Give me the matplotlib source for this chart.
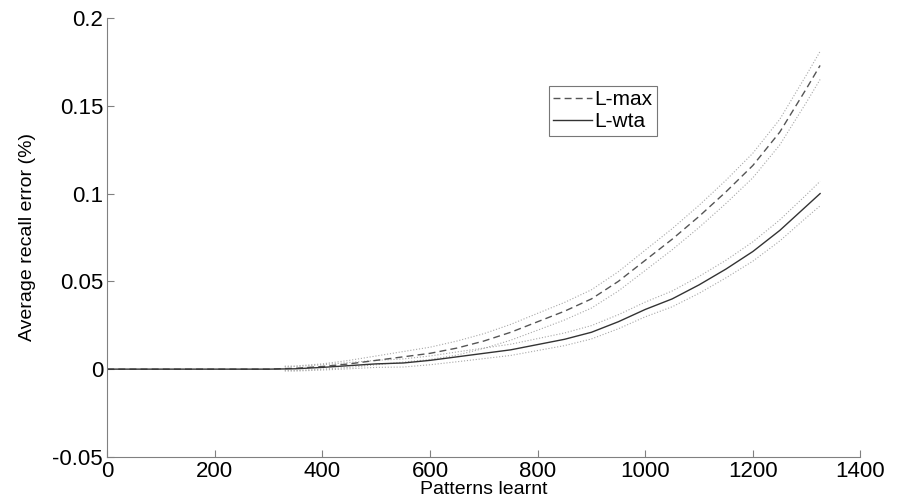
import matplotlib
matplotlib.use("Agg")
import matplotlib.pyplot as plt

# patterns learnt
x = [0, 300, 350, 400, 450, 500, 550, 600, 650, 700, 750, 800, 850, 900,
     950, 1000, 1050, 1100, 1150, 1200, 1250, 1300, 1325]
lmax = [0, 0, 0.0005, 0.0015, 0.003, 0.005, 0.007, 0.009, 0.012, 0.016, 0.021,
        0.027, 0.033, 0.040, 0.050, 0.062, 0.074, 0.087, 0.101, 0.116, 0.135,
        0.160, 0.173]
lwta = [0, 0, 0.0002, 0.001, 0.002, 0.003, 0.0035, 0.005, 0.007, 0.009, 0.011,
        0.014, 0.017, 0.021, 0.027, 0.034, 0.040, 0.048, 0.057, 0.067, 0.079,
        0.093, 0.100]

# spread of the dotted bands (start at ~330 patterns)
xb = [330, 350, 400, 450, 500, 550, 600, 650, 700, 750, 800, 850, 900, 950,
      1000, 1050, 1100, 1150, 1200, 1250, 1300, 1325]
lmax_b = [0.0005, 0.0005, 0.0015, 0.003, 0.005, 0.007, 0.009, 0.012, 0.016,
          0.021, 0.027, 0.033, 0.040, 0.050, 0.062, 0.074, 0.087, 0.101, 0.116,
          0.135, 0.160, 0.173]
lmax_sd = [0.0012, 0.0013, 0.0015, 0.002, 0.0025, 0.003, 0.0035, 0.004, 0.0042,
           0.0045, 0.0048, 0.005, 0.0052, 0.0055, 0.0058, 0.006, 0.0063, 0.0066,
           0.007, 0.0073, 0.0078, 0.008]
lwta_b = [0.0001, 0.0002, 0.001, 0.002, 0.003, 0.0035, 0.005, 0.007, 0.009,
          0.011, 0.014, 0.017, 0.021, 0.027, 0.034, 0.040, 0.048, 0.057, 0.067,
          0.079, 0.093, 0.100]
lwta_sd = [0.0012, 0.0013, 0.0015, 0.0018, 0.002, 0.0023, 0.0025, 0.0028, 0.003,
           0.0032, 0.0034, 0.0036, 0.0038, 0.004, 0.0042, 0.0045, 0.0048, 0.005,
           0.0055, 0.006, 0.0065, 0.007]

plt.rcParams['font.family'] = ['Liberation Sans', 'DejaVu Sans']

fig = plt.figure(figsize=(9.01, 5.01), dpi=100)
ax = fig.add_axes([0.119, 0.088, 0.836, 0.876])

band = dict(color='#a8a8a8', linestyle=':', linewidth=0.8)
for m, s in ((lmax_b, lmax_sd), (lwta_b, lwta_sd)):
    ax.plot(xb, [a + b for a, b in zip(m, s)], **band)
    ax.plot(xb, [a - b for a, b in zip(m, s)], **band)

ax.plot(x, lmax, color='#555555', linestyle=(0, (5, 3)), linewidth=1.0, label='L-max')
ax.plot(x, lwta, color='#333333', linestyle='-', linewidth=1.0, label='L-wta')

ax.set_xlim(0, 1400)
ax.set_ylim(-0.05, 0.2)
ax.set_xticks(range(0, 1401, 200))
ax.set_yticks([-0.05, 0, 0.05, 0.1, 0.15, 0.2])
ax.set_yticklabels(['-0.05', '0', '0.05', '0.1', '0.15', '0.2'])
for sp in ('top', 'right'):
    ax.spines[sp].set_visible(False)
for sp in ('left', 'bottom'):
    ax.spines[sp].set_color('#808080')
ax.tick_params(direction='in', length=5, color='#808080', labelsize=16)
ax.tick_params(axis='x', pad=3)
ax.tick_params(axis='y', pad=3)

ax.set_xlabel('Patterns learnt', fontsize=14, labelpad=-1)
ax.set_ylabel('Average recall error (%)', fontsize=14, labelpad=12)

leg = ax.legend(loc='upper left', bbox_to_anchor=(0.586, 0.845), fontsize=15,
                frameon=True, fancybox=False, handlelength=1.9, handletextpad=0.1,
                borderpad=0.2, labelspacing=0.15, borderaxespad=0)
leg.get_frame().set_edgecolor('#555555')
leg.get_frame().set_linewidth(0.8)

fig.savefig('out.png', dpi=100)
